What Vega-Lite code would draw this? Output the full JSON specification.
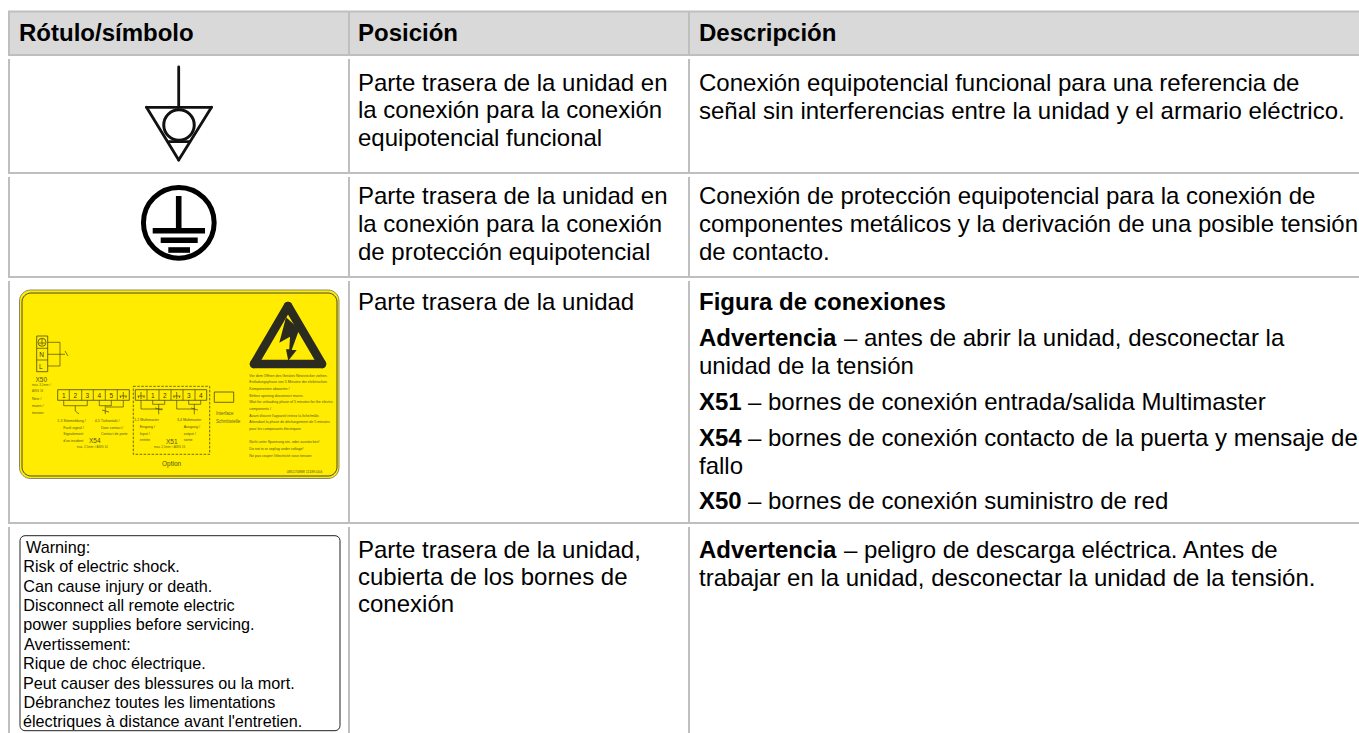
{"$schema":"https://vega.github.io/schema/vega-lite/v6.json","width":1359,"height":733,"padding":0,"autosize":{"type":"fit","contains":"padding"},"background":"white","config":{"view":{"stroke":null},"axis":{"grid":false}},
"encoding":{"x":{"field":"x","type":"quantitative","axis":null,"scale":{"domain":[0,1359],"range":[0,1359],"nice":false,"zero":false}},"y":{"field":"y","type":"quantitative","axis":null,"scale":{"domain":[0,733],"range":[0,733],"nice":false,"zero":false}}},
"layer":[
{"data":{"values":[{"x":8,"x2":1359,"y":12,"y2":55}]},"mark":{"type":"rect","fill":"#d9d9d9"},"encoding":{"x2":{"field":"x2"},"y2":{"field":"y2"}}},
{"data":{"values":[
{"x":8,"x2":1359,"y":11.5,"y2":11.5},{"x":8,"x2":1359,"y":55,"y2":55},{"x":8,"x2":1359,"y":173,"y2":173},{"x":8,"x2":1359,"y":277,"y2":277},{"x":8,"x2":1359,"y":523,"y2":523},
{"x":9,"x2":9,"y":11,"y2":55},{"x":349,"x2":349,"y":11,"y2":55},{"x":689,"x2":689,"y":11,"y2":55},
{"x":9,"x2":9,"y":59,"y2":173},{"x":349,"x2":349,"y":59,"y2":173},{"x":689,"x2":689,"y":59,"y2":173},
{"x":9,"x2":9,"y":177,"y2":277},{"x":349,"x2":349,"y":177,"y2":277},{"x":689,"x2":689,"y":177,"y2":277},
{"x":9,"x2":9,"y":281,"y2":523},{"x":349,"x2":349,"y":281,"y2":523},{"x":689,"x2":689,"y":281,"y2":523},
{"x":9,"x2":9,"y":527,"y2":733},{"x":349,"x2":349,"y":527,"y2":733},{"x":689,"x2":689,"y":527,"y2":733}
]},"mark":{"type":"rule","color":"#bfbfbf","strokeWidth":2},"encoding":{"x2":{"field":"x2"},"y2":{"field":"y2"}}},
{"data":{"values":[{"x":19,"y":41,"t":"Rótulo/símbolo"},{"x":358,"y":41,"t":"Posición"},{"x":699,"y":41,"t":"Descripción"},
{"x":699,"y":310,"t":"Figura de conexiones"},{"x":699,"y":346,"t":"Advertencia"},{"x":699,"y":410,"t":"X51"},{"x":699,"y":446,"t":"X54"},{"x":699,"y":509,"t":"X50"},{"x":699,"y":558,"t":"Advertencia"}
]},"mark":{"type":"text","font":"Liberation Sans","fontSize":24,"fontWeight":"bold","align":"left","baseline":"alphabetic","color":"#000"},"encoding":{"text":{"field":"t"}}},
{"data":{"values":[
{"x":358,"y":91,"t":"Parte trasera de la unidad en"},{"x":358,"y":118,"t":"la conexión para la conexión"},{"x":358,"y":146,"t":"equipotencial funcional"},
{"x":358,"y":204,"t":"Parte trasera de la unidad en"},{"x":358,"y":232,"t":"la conexión para la conexión"},{"x":358,"y":260,"t":"de protección equipotencial"},
{"x":358,"y":310,"t":"Parte trasera de la unidad"},
{"x":358,"y":558,"t":"Parte trasera de la unidad,"},{"x":358,"y":585,"t":"cubierta de los bornes de"},{"x":358,"y":612,"t":"conexión"},
{"x":699,"y":91,"t":"Conexión equipotencial funcional para una referencia de"},{"x":699,"y":119,"t":"señal sin interferencias entre la unidad y el armario eléctrico."},
{"x":699,"y":204,"t":"Conexión de protección equipotencial para la conexión de"},{"x":699,"y":232,"t":"componentes metálicos y la derivación de una posible tensión"},{"x":699,"y":260,"t":"de contacto."},
{"x":844,"y":346,"t":"– antes de abrir la unidad, desconectar la"},{"x":699,"y":374,"t":"unidad de la tensión"},
{"x":748,"y":410,"t":"– bornes de conexión entrada/salida Multimaster"},
{"x":748,"y":446,"t":"– bornes de conexión contacto de la puerta y mensaje de"},{"x":699,"y":474,"t":"fallo"},
{"x":748,"y":509,"t":"– bornes de conexión suministro de red"},
{"x":844,"y":558,"t":"– peligro de descarga eléctrica. Antes de"},{"x":699,"y":586,"t":"trabajar en la unidad, desconectar la unidad de la tensión."}
]},"mark":{"type":"text","font":"Liberation Sans","fontSize":24,"align":"left","baseline":"alphabetic","color":"#000"},"encoding":{"text":{"field":"t"}}},
{"data":{"values":[
{"x":178.7,"x2":178.7,"y":67,"y2":107},{"x":146.5,"x2":211.5,"y":107.3,"y2":107.3},{"x":146.5,"x2":178.7,"y":107.3,"y2":160},{"x":211.5,"x2":178.7,"y":107.3,"y2":160},{"x":169,"x2":189,"y":141.7,"y2":141.7}
]},"mark":{"type":"rule","color":"#111","strokeWidth":2.8,"strokeCap":"round"},"encoding":{"x2":{"field":"x2"},"y2":{"field":"y2"}}},
{"data":{"values":[{"x":179,"y":125}]},"mark":{"type":"point","shape":"circle","size":930,"filled":false,"stroke":"#111","strokeWidth":3,"opacity":1}},
{"data":{"values":[{"x":178.8,"y":222.8}]},"mark":{"type":"point","shape":"circle","size":5000,"filled":false,"stroke":"#000","strokeWidth":5,"opacity":1}},
{"data":{"values":[{"x":178.7,"x2":178.7,"y":196,"y2":228},{"x":152.7,"x2":205,"y":230.7,"y2":230.7},{"x":160.7,"x2":197.7,"y":240.3,"y2":240.3},{"x":168.3,"x2":190,"y":250,"y2":250}]},"mark":{"type":"rule","color":"#000","strokeWidth":5.6},"encoding":{"x2":{"field":"x2"},"y2":{"field":"y2"}}},
{"data":{"values":[{"x":19.5,"x2":339,"y":290,"y2":478.5}]},"mark":{"type":"rect","fill":"#ffec00","stroke":"#8a8a60","strokeWidth":1,"cornerRadius":11},"encoding":{"x2":{"field":"x2"},"y2":{"field":"y2"}}},
{"data":{"values":[{"x":22,"x2":337,"y":293,"y2":476}]},"mark":{"type":"rect","fill":"transparent","stroke":"#444","strokeWidth":1,"cornerRadius":9},"encoding":{"x2":{"field":"x2"},"y2":{"field":"y2"}}},
{"data":{"values":[{"x":288,"x2":254,"y":306,"y2":364},{"x":288,"x2":322,"y":306,"y2":364},{"x":254,"x2":322,"y":364,"y2":364}]},"mark":{"type":"rule","color":"#2b2b20","strokeWidth":8.5,"strokeCap":"round"},"encoding":{"x2":{"field":"x2"},"y2":{"field":"y2"}}},
{"data":{"values":[{"x":289.5,"y":339}]},"mark":{"type":"point","filled":true,"opacity":1,"size":1936,"color":"#2b2b20","strokeWidth":0,"shape":"M-0.159,-0.985L0.445,-0.44L0.1,0.5L0.327,0.5L-0.055,0.985L-0.159,0.468L-0.009,0.468L0.023,-0.105L-0.464,0.168Z"}},
{"data":{"values":[{"x":36.7,"x2":47.7,"y":336,"y2":371.7},{"x":57.7,"x2":129.3,"y":389.7,"y2":400.3},{"x":135.3,"x2":206.7,"y":389.7,"y2":400.3},{"x":214.3,"x2":233.7,"y":392,"y2":402.3}]},"mark":{"type":"rect","fill":"transparent","stroke":"#4a4a10","strokeWidth":0.8},"encoding":{"x2":{"field":"x2"},"y2":{"field":"y2"}}},
{"data":{"values":[{"x":133.3,"x2":209.7,"y":386.3,"y2":454.3}]},"mark":{"type":"rect","fill":"transparent","stroke":"#4a4a10","strokeWidth":0.8,"strokeDash":[2.5,1.5]},"encoding":{"x2":{"field":"x2"},"y2":{"field":"y2"}}},
{"data":{"values":[{"x":42,"y":342.3}]},"mark":{"type":"point","shape":"circle","size":64,"filled":false,"stroke":"#4a4a10","strokeWidth":0.8,"opacity":1}},
{"data":{"values":[
{"x":36.7,"x2":47.7,"y":348.3,"y2":348.3},{"x":36.7,"x2":47.7,"y":360,"y2":360},
{"x":47.7,"x2":60,"y":342.3,"y2":342.3},{"x":60,"x2":60,"y":342.3,"y2":366},{"x":47.7,"x2":60,"y":366,"y2":366},{"x":47.7,"x2":65,"y":354.3,"y2":354.3},{"x":65,"x2":68,"y":351,"y2":356},{"x":42,"x2":42,"y":339,"y2":345},{"x":39,"x2":45,"y":343,"y2":343},
{"x":69.3,"x2":69.3,"y":389.7,"y2":400.3},{"x":81.7,"x2":81.7,"y":389.7,"y2":400.3},{"x":93.3,"x2":93.3,"y":389.7,"y2":400.3},{"x":105.3,"x2":105.3,"y":389.7,"y2":400.3},{"x":117.3,"x2":117.3,"y":389.7,"y2":400.3},
{"x":63.7,"x2":63.7,"y":400.3,"y2":405.7},{"x":63.7,"x2":87.3,"y":405.7,"y2":405.7},{"x":87.3,"x2":87.3,"y":400.3,"y2":405.7},{"x":75.3,"x2":75.3,"y":405.7,"y2":411},{"x":75.3,"x2":79,"y":411,"y2":414},
{"x":99.3,"x2":99.3,"y":400.3,"y2":405.7},{"x":99.3,"x2":111.3,"y":405.7,"y2":405.7},{"x":111.3,"x2":111.3,"y":400.3,"y2":405.7},{"x":105.3,"x2":105.3,"y":405.7,"y2":414},{"x":123.3,"x2":123.3,"y":400.3,"y2":407},{"x":106,"x2":123.3,"y":407,"y2":407},{"x":102,"x2":109,"y":410,"y2":412},
{"x":119.5,"x2":127,"y":396,"y2":396},{"x":123.3,"x2":123.3,"y":392,"y2":399},{"x":120.5,"x2":120.5,"y":396,"y2":398},{"x":126,"x2":126,"y":396,"y2":398},
{"x":147,"x2":147,"y":389.7,"y2":400.3},{"x":159,"x2":159,"y":389.7,"y2":400.3},{"x":171,"x2":171,"y":389.7,"y2":400.3},{"x":183,"x2":183,"y":389.7,"y2":400.3},{"x":195,"x2":195,"y":389.7,"y2":400.3},
{"x":141,"x2":141,"y":400.3,"y2":409},{"x":141,"x2":163,"y":409,"y2":409},{"x":152.7,"x2":152.7,"y":400.3,"y2":404.3},{"x":152.7,"x2":164.7,"y":404.3,"y2":404.3},{"x":164.7,"x2":164.7,"y":400.3,"y2":404.3},{"x":158.7,"x2":158.7,"y":404.3,"y2":414.3},{"x":155,"x2":162,"y":408,"y2":410},
{"x":176.7,"x2":176.7,"y":400.3,"y2":409},{"x":176.7,"x2":195,"y":409,"y2":409},{"x":188.7,"x2":188.7,"y":400.3,"y2":404.3},{"x":188.7,"x2":200.7,"y":404.3,"y2":404.3},{"x":200.7,"x2":200.7,"y":400.3,"y2":404.3},{"x":194.3,"x2":194.3,"y":404.3,"y2":414.3},{"x":191,"x2":198,"y":408,"y2":410},
{"x":137.5,"x2":145,"y":396,"y2":396},{"x":141,"x2":141,"y":392,"y2":399},{"x":138.5,"x2":138.5,"y":396,"y2":398},{"x":144,"x2":144,"y":396,"y2":398},
{"x":173,"x2":180.5,"y":396,"y2":396},{"x":176.7,"x2":176.7,"y":392,"y2":399},{"x":174,"x2":174,"y":396,"y2":398},{"x":179.5,"x2":179.5,"y":396,"y2":398}
]},"mark":{"type":"rule","color":"#4a4a10","strokeWidth":0.7},"encoding":{"x2":{"field":"x2"},"y2":{"field":"y2"}}},
{"data":{"values":[{"x":41.5,"y":357,"t":"N"},{"x":40.7,"y":369,"t":"L"},{"x":63.7,"y":398,"t":"1"},{"x":75.3,"y":398,"t":"2"},{"x":87.3,"y":398,"t":"3"},{"x":99.3,"y":398,"t":"4"},{"x":111.3,"y":398,"t":"5"},{"x":152.7,"y":398,"t":"1"},{"x":164.7,"y":398,"t":"2"},{"x":188.7,"y":398,"t":"3"},{"x":200.7,"y":398,"t":"4"}]},"mark":{"type":"text","font":"Liberation Sans","fontSize":6.5,"align":"center","baseline":"alphabetic","color":"#3a3a10"},"encoding":{"text":{"field":"t"}}},
{"data":{"values":[{"x":35.5,"y":381.5,"t":"X50"},{"x":89,"y":442.5,"t":"X54"},{"x":166,"y":443.5,"t":"X51"},{"x":162,"y":465.5,"t":"Option"}]},"mark":{"type":"text","font":"Liberation Sans","fontSize":6.5,"align":"left","baseline":"alphabetic","color":"#55551a"},"encoding":{"text":{"field":"t"}}},
{"data":{"values":[
{"x":216,"y":415,"t":"Interface"},{"x":216,"y":423,"t":"Schnittstelle"}
]},"mark":{"type":"text","font":"Liberation Sans","fontSize":4.5,"align":"left","baseline":"alphabetic","color":"#66661a"},"encoding":{"text":{"field":"t"}}},
{"data":{"values":[
{"x":32,"y":400,"t":"Netz /"},{"x":32,"y":407,"t":"mains /"},{"x":32,"y":414,"t":"tension"},
{"x":57.3,"y":422,"t":"1-3 Störmeldung /"},{"x":63.3,"y":428.5,"t":"Fault signal /"},{"x":63.3,"y":435,"t":"Signalement"},{"x":63.3,"y":441.5,"t":"d'un incident"},
{"x":94.7,"y":422,"t":"4,5 Türkontakt /"},{"x":101,"y":428.5,"t":"Door contact /"},{"x":101,"y":435,"t":"Contact de porte"},
{"x":134.3,"y":420.5,"t":"1,2 Multimaster"},{"x":139.7,"y":428,"t":"Eingang /"},{"x":139.7,"y":434.5,"t":"Input /"},{"x":139.7,"y":441,"t":"entrée"},
{"x":177,"y":420.5,"t":"3,4 Multimaster"},{"x":183.7,"y":428,"t":"Ausgang /"},{"x":183.7,"y":434.5,"t":"output /"},{"x":183.7,"y":441,"t":"sortie"},
{"x":249.3,"y":376.5,"t":"Vor dem Öffnen des Gerätes Netzstecker ziehen."},{"x":249.3,"y":382.5,"t":"Entladungsphase von 5 Minuten der elektrischen"},{"x":249.3,"y":390,"t":"Komponenten abwarten /"},{"x":249.3,"y":396.5,"t":"Before opening disconnect mains."},{"x":249.3,"y":402.5,"t":"Wait for unloading phase of 5 minutes for the electric"},{"x":249.3,"y":409.5,"t":"components /"},{"x":249.3,"y":416.5,"t":"Avant d'ouvrir l'appareil retirez la fiche/mâle."},{"x":249.3,"y":422.5,"t":"Attendant la phase de déchargement de 5 minutes"},{"x":249.3,"y":430,"t":"pour les composants électriques"},{"x":249.3,"y":442.5,"t":"Nicht unter Spannung ein- oder ausstecken!"},{"x":249.3,"y":450,"t":"Do not in or unplug under voltage!"},{"x":249.3,"y":456.5,"t":"Ne pas couper l'électricité sous tension"},
{"x":286.7,"y":473,"t":"085170888   11189-004"}
]},"mark":{"type":"text","font":"Liberation Sans","fontSize":3.6,"align":"left","baseline":"alphabetic","color":"#55551a"},"encoding":{"text":{"field":"t"}}},
{"data":{"values":[{"x":32,"y":386,"t":"max. 3,5mm² /"},{"x":32,"y":391.5,"t":"AWG 16"},{"x":76.7,"y":447.5,"t":"max. 2,5mm² / AWG 14"},{"x":154,"y":447.5,"t":"max. 2,5mm² / AWG 16"}]},"mark":{"type":"text","font":"Liberation Sans","fontSize":3,"align":"left","baseline":"alphabetic","color":"#66661a"},"encoding":{"text":{"field":"t"}}},
{"data":{"values":[{"x":20,"x2":340,"y":535.7,"y2":730.7}]},"mark":{"type":"rect","fill":"transparent","stroke":"#222","strokeWidth":1,"cornerRadius":5},"encoding":{"x2":{"field":"x2"},"y2":{"field":"y2"}}},
{"data":{"values":[
{"x":26,"y":553,"t":"Warning:"},{"x":23.3,"y":572,"t":"Risk of electric shock."},{"x":23.3,"y":591.5,"t":"Can cause injury or death."},{"x":23.3,"y":611,"t":"Disconnect all remote electric"},{"x":23.3,"y":630,"t":"power supplies before servicing."},{"x":24,"y":649.5,"t":"Avertissement:"},{"x":23,"y":669,"t":"Rique de choc électrique."},{"x":23,"y":688.5,"t":"Peut causer des blessures ou la mort."},{"x":23.5,"y":708,"t":"Débranchez toutes les limentations"},{"x":23,"y":727,"t":"électriques à distance avant l'entretien."}
]},"mark":{"type":"text","font":"Liberation Sans","fontSize":16.2,"align":"left","baseline":"alphabetic","color":"#000"},"encoding":{"text":{"field":"t"}}}
]}
